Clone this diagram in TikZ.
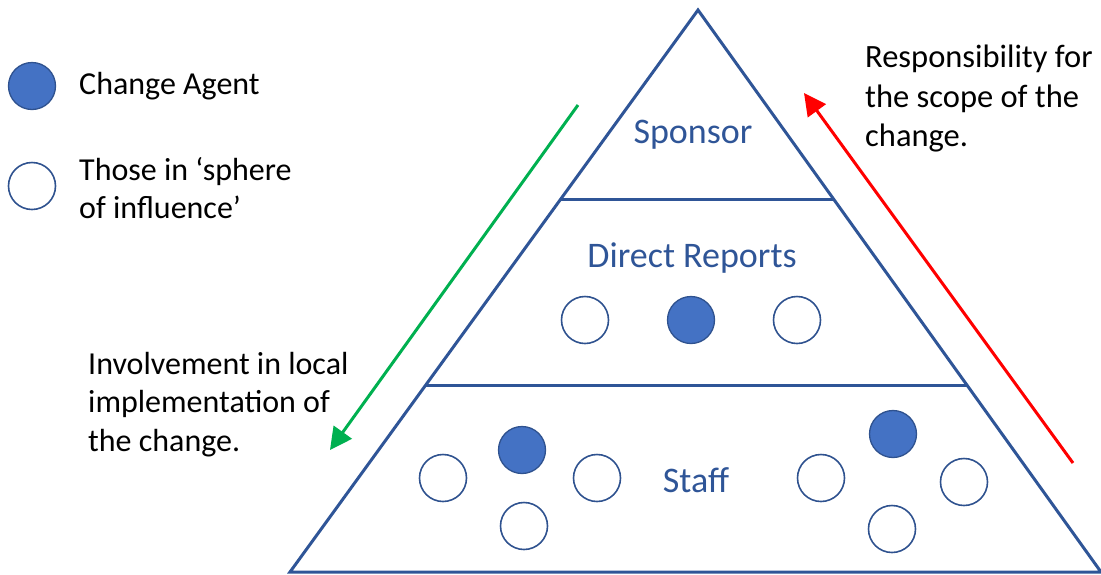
\documentclass[tikz,border=0pt]{standalone}
\usepackage{fontspec}
\setmainfont{Carlito}
\usetikzlibrary{arrows.meta,calc}
\definecolor{pyrblue}{HTML}{2F5597}
\definecolor{agentfill}{HTML}{4472C4}
\definecolor{agentline}{HTML}{2F528F}
\definecolor{arrgreen}{HTML}{00B050}
\definecolor{arrred}{HTML}{FF0000}
\begin{document}
\begin{tikzpicture}[x=1pt,y=-1pt,
  agent/.style={circle, minimum size=47pt, inner sep=0pt, fill=agentfill, draw=agentline, line width=1.3pt},
  sphere/.style={circle, minimum size=47pt, inner sep=0pt, fill=white, draw=agentline, line width=1.6pt},
  tier/.style={text=pyrblue, font=\fontsize{36}{44}\selectfont, inner sep=0pt, anchor=base},
  note/.style={text=black, font=\fontsize{32}{38.5}\selectfont, align=left, inner sep=0pt, anchor=north west},
  pyr/.style={draw=pyrblue, line width=3pt, line join=miter},
  flow/.style={line width=3pt, -{Triangle[length=22pt,width=22pt]}}
]
\useasboundingbox (0,0) rectangle (1101,574);

% pyramid outline and tier dividers
\coordinate (apex) at (698,10);
\coordinate (bl) at (290,572);
\coordinate (br) at (1101,572);
\draw[pyr] (apex) -- (bl) -- (br) -- cycle;
\coordinate (d1l) at ($(apex)!0.3363!(bl)$);
\coordinate (d1r) at ($(apex)!0.3363!(br)$);
\coordinate (d2l) at ($(apex)!0.6673!(bl)$);
\coordinate (d2r) at ($(apex)!0.6673!(br)$);
\draw[pyr] (d1l) -- (d1r);
\draw[pyr] (d2l) -- (d2r);

% tier labels
\node[tier] (sponsor) at (693,143) {Sponsor};
\node[tier] (direct) at (692,267) {Direct Reports};
\node[tier] (staff) at (696,492) {Staff};

% direct reports
\node[sphere] (dr1) at (585,320) {};
\node[agent]  (dr2) at (691,320) {};
\node[sphere] (dr3) at (797,320) {};

% staff, left group
\node[sphere] (sl1) at (443,478) {};
\node[agent]  (sl2) at (522,450) {};
\node[sphere] (sl3) at (597,478) {};
\node[sphere] (sl4) at (524,526) {};

% staff, right group
\node[sphere] (sr1) at (821,478) {};
\node[agent]  (sr2) at (893,434) {};
\node[sphere] (sr3) at (964,482) {};
\node[sphere] (sr4) at (892,529) {};

% legend
\node[agent]  (keyagent) at (32,86) {};
\node[sphere] (keysphere) at (32,186) {};
\node[note] (keyagenttext) at (79,72) {Change Agent};
\node[note] (keyspheretext) at (79,157) {Those in ‘sphere\\of influence’};

% side notes
\node[note, font=\fontsize{32.5}{39.5}\selectfont] (resp) at (865,45) {Responsibility for\\the scope of the\\change.};
\node[note] (involve) at (88,352) {Involvement in local\\implementation of\\the change.};

% direction arrows
\coordinate (gstart) at (578,105);
\coordinate (gend) at (330,450);
\coordinate (rstart) at (1073,463);
\coordinate (rend) at (804,93);
\draw[flow, arrgreen] (gstart) -- (gend);
\draw[flow, arrred] (rstart) -- (rend);
\end{tikzpicture}
\end{document}
